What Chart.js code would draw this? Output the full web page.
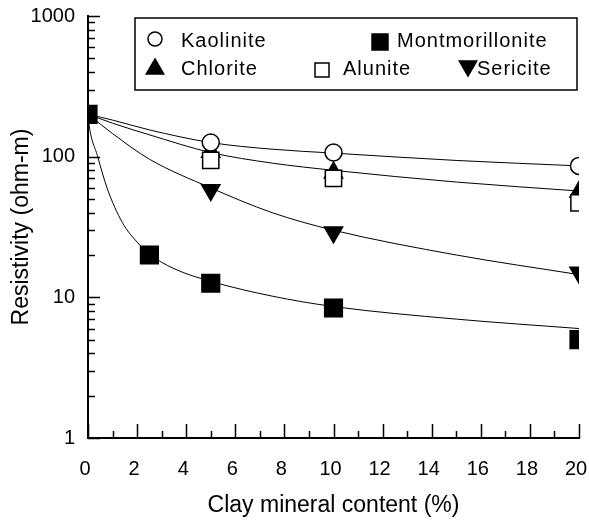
<!DOCTYPE html>
<html>
<head>
<meta charset="utf-8">
<script src="https://cdn.jsdelivr.net/npm/chart.js@4.4.0/dist/chart.umd.min.js"></script>
<style>
  html, body { margin: 0; padding: 0; background: #fff; overflow: hidden; }
  #wrap { width: 589px; height: 520px; position: relative; }
</style>
</head>
<body>
<div id="wrap"><canvas id="chart"></canvas></div>
<script>
// measured points (clay mineral content %, resistivity ohm-m)
const contentX = [5, 10, 20];
const kaolinite = [126, 107, 86];
const chlorite = [108, 77, 56];
const alunite = [94, 70, 47];
const sericite = [58, 29, 15];
const montX = [0, 2.5, 5, 10, 20];
const montmorillonite = [200, 20, 12.6, 8.4, 5];

// fitted curves
const fitX = [0, 1, 2.5, 5, 7.5, 10, 15, 20];
const kaolFit = [200, 182, 155, 126, 113, 106, 94, 86];
const chlorFit = [200, 173, 143, 107, 90, 80, 66, 57];
const seriFit = [200, 146, 96, 60, 40, 30, 20, 14.5];
const montFitX = [0, 0.05, 0.38, 0.79, 1.4, 2.0, 2.5, 3.5, 5, 7.5, 10, 15, 20];
const montFit = [200, 165, 102, 59, 34, 24.7, 20.3, 16, 13, 10.2, 8.6, 7, 6];

const yMajor = [1, 10, 100, 1000];
const xMin = 0, xMax = 20, xStep = 2;

const FONT = "Arial, 'Liberation Sans', sans-serif";

function pts(xs, ys) { return xs.map((x, i) => ({ x: x, y: ys[i] })); }

function fitLine(label, xs, ys) {
  return {
    label: label, data: pts(xs, ys), showLine: true, pointRadius: 0,
    borderColor: '#000', borderWidth: 1, cubicInterpolationMode: 'monotone',
    order: 5, fill: false
  };
}

function markers(label, xs, ys, style, filled, r, rot) {
  return {
    label: label, data: pts(xs, ys), showLine: false,
    pointStyle: style, pointRadius: r, pointRotation: rot || 0,
    pointBackgroundColor: filled ? '#000' : '#fff',
    pointBorderColor: '#000', pointBorderWidth: 1.5, order: 1
  };
}

const datasets = [
  fitLine('fit kaolinite', fitX, kaolFit),
  fitLine('fit chlorite', fitX, chlorFit),
  fitLine('fit sericite', fitX, seriFit),
  fitLine('fit montmorillonite', montFitX, montFit),
  markers('Kaolinite', contentX, kaolinite, 'circle', false, 8.5),
  markers('Alunite', contentX, alunite, 'rect', false, 11.5),
  markers('Chlorite', contentX, chlorite, 'triangle', true, 10.5),
  markers('Sericite', contentX, sericite, 'triangle', true, 10.5, 180),
  markers('Montmorillonite', montX, montmorillonite, 'rect', true, 12.5)
];

function drawMark(ctx, style, filled, x, y, r) {
  ctx.save();
  ctx.beginPath();
  if (style === 'circle') {
    ctx.arc(x, y, r, 0, Math.PI * 2);
  } else if (style === 'rect') {
    ctx.rect(x - r, y - r, 2 * r, 2 * r);
  } else if (style === 'up') {
    ctx.moveTo(x, y - r); ctx.lineTo(x + r * 0.87, y + r * 0.5); ctx.lineTo(x - r * 0.87, y + r * 0.5); ctx.closePath();
  } else {
    ctx.moveTo(x, y + r); ctx.lineTo(x + r * 0.87, y - r * 0.5); ctx.lineTo(x - r * 0.87, y - r * 0.5); ctx.closePath();
  }
  ctx.fillStyle = filled ? '#000' : '#fff';
  ctx.fill();
  ctx.lineWidth = 1.5;
  ctx.strokeStyle = '#000';
  ctx.stroke();
  ctx.restore();
}

// inside ticks + boxed legend
const decor = {
  id: 'decor',
  afterDraw(chart) {
    const ctx = chart.ctx;
    const xs = chart.scales.x, ys = chart.scales.y;
    const a = chart.chartArea;
    ctx.save();
    ctx.strokeStyle = '#000';
    ctx.lineWidth = 1.5;
    ctx.beginPath();
    for (let d = 1; d < 1000; d *= 10) {
      for (let m = 1; m <= 10; m++) {
        const v = d * m;
        const py = Math.round(ys.getPixelForValue(v)) + 0.5;
        const len = (m === 1 || m === 10) ? 12 : 7;
        ctx.moveTo(a.left, py); ctx.lineTo(a.left + len, py);
      }
    }
    for (let v = xMin; v <= xMax; v++) {
      const px = Math.round(xs.getPixelForValue(v)) + 0.5;
      const len = v % 2 === 0 ? 14 : 7;
      ctx.moveTo(px, a.bottom); ctx.lineTo(px, a.bottom - len);
    }
    ctx.stroke();

    // legend box
    const bx = a.left + 47, by = a.top + 2, bw = a.right - 2 - bx, bh = 72;
    ctx.lineWidth = 1.5;
    ctx.strokeRect(bx, by, bw, bh);
    ctx.font = '20px ' + FONT;
    ctx.fillStyle = '#000';
    ctx.textBaseline = 'alphabetic';
    try { ctx.letterSpacing = '1px'; } catch (e) {}
    // [label, marker, filled, marker x, marker y, size, text x, baseline]
    const items = [
      ['Kaolinite', 'circle', false, 20, 21, 7, 46, 29],
      ['Montmorillonite', 'rect', true, 245, 24, 8, 262, 29],
      ['Chlorite', 'up', true, 20, 51, 10, 46, 57],
      ['Alunite', 'rect', false, 187, 52, 7, 208, 57],
      ['Sericite', 'down', true, 333, 48, 10, 342, 57]
    ];
    items.forEach(it => {
      drawMark(ctx, it[1], it[2], bx + it[3], by + it[4], it[5]);
      ctx.fillText(it[0], bx + it[6], by + it[7]);
    });
    ctx.restore();
  }
};

new Chart(document.getElementById('chart'), {
  type: 'scatter',
  data: { datasets: datasets },
  plugins: [decor],
  options: {
    responsive: true,
    maintainAspectRatio: false,
    animation: false,
    layout: { autoPadding: false, padding: { top: 16, right: 10, left: 0, bottom: 0 } },
    plugins: { legend: { display: false }, tooltip: { enabled: false } },
    scales: {
      x: {
        type: 'linear', min: xMin, max: xMax,
        afterFit(s) { s.height = 82; s.paddingLeft = 0; s.paddingRight = 0; },
        ticks: { stepSize: xStep, color: '#000', font: { family: FONT, size: 20 }, padding: 19, maxRotation: 0, labelOffset: -3 },
        grid: { display: true, drawOnChartArea: false, drawTicks: false, color: 'rgba(0,0,0,0)' },
        border: { display: true, color: '#000', width: 2 },
        title: { display: true, text: 'Clay mineral content (%)', color: '#000', font: { family: FONT, size: 23 }, padding: { top: 0, bottom: 1 } }
      },
      y: {
        type: 'logarithmic', min: 1, max: 1000,
        afterFit(s) { s.width = 88; s.paddingTop = 0; s.paddingBottom = 0; },
        afterBuildTicks(s) { s.ticks = yMajor.map(v => ({ value: v, major: true })); },
        ticks: { color: '#000', font: { family: FONT, size: 20 }, padding: 13, callback: v => String(v) },
        grid: { display: true, drawOnChartArea: false, drawTicks: false, color: 'rgba(0,0,0,0)' },
        border: { display: true, color: '#000', width: 2 },
        title: { display: true, text: 'Resistivity (ohm-m)', color: '#000', font: { family: FONT, size: 23 }, padding: { top: 8, bottom: 0 } }
      }
    }
  }
});
</script>
</body>
</html>
